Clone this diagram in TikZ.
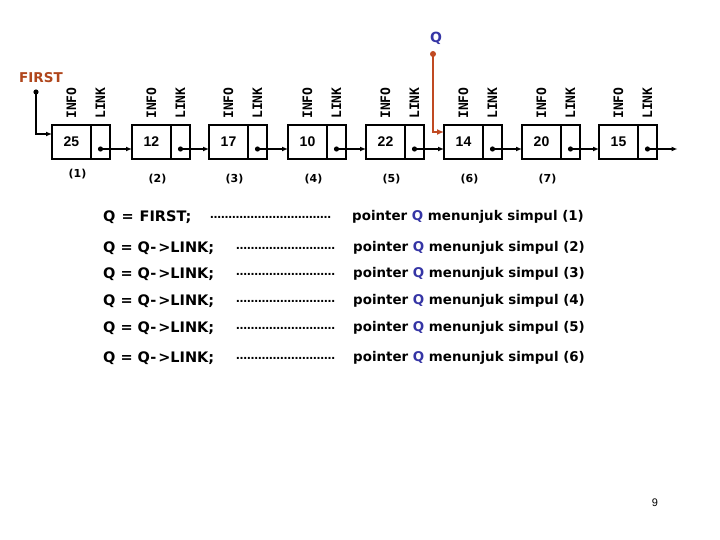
\documentclass[tikz,border=0pt]{standalone}
\usepackage{fontspec}
\setmainfont{DejaVu Sans}
\newfontfamily\monob{DejaVu Sans Mono}
\newfontfamily\numf{Liberation Sans}
\usetikzlibrary{calc,arrows.meta}
\definecolor{firstbrown}{HTML}{B0461C}
\definecolor{qblue}{HTML}{3535A5}
\definecolor{qline}{HTML}{C04A22}
\begin{document}
\begin{tikzpicture}[x=1pt,y=-1pt,
 infobox/.style={draw,line width=1.5pt,outer sep=0pt,minimum width=39pt,minimum height=34pt,inner sep=0pt,font=\numf\bfseries\fontsize{14}{14}\selectfont},
 linkbox/.style={draw,line width=1.5pt,outer sep=0pt,minimum width=19pt,minimum height=34pt,inner sep=0pt},
 fieldlbl/.style={rotate=90,anchor=west,inner sep=0pt,font=\monob\bfseries\fontsize{13}{13}\selectfont},
 idxlbl/.style={inner sep=0pt,font=\bfseries\fontsize{11}{11}\selectfont},
 ptr/.style={line width=1.3pt,-{Latex[length=6pt,width=5pt]}},
 codetxt/.style={anchor=west,inner sep=0pt,font=\bfseries\fontsize{14.5}{15}\selectfont},
 pointtxt/.style={anchor=west,inner sep=0pt,font=\bfseries\fontsize{13.4}{14}\selectfont},
 dotstxt/.style={anchor=west,inner sep=0pt,font=\bfseries\fontsize{11}{11}\selectfont},
]
\useasboundingbox (0,0) rectangle (720,540);
\foreach \k/\x/\v in {1/52/25,2/132/12,3/209/17,4/288/10,5/366/22,6/444/14,7/522/20,8/599/15}{
  \node[infobox,anchor=north west] (i\k) at (\x,125) {\v};
  \node[linkbox,anchor=west] (l\k) at (i\k.east) {};
  \node[fieldlbl] (inf\k) at ($(i\k.north)+(0,-6)$) {INFO};
  \node[fieldlbl] (lnk\k) at ($(l\k.north)+(0,-6)$) {LINK};
  \coordinate (d\k) at ($(l\k.center)+(0,7)$);
  \fill (d\k) circle (2.6pt);
}
\node[idxlbl] (n1) at ($(i1.south)+(6,15)$) {(1)};
\foreach \k in {2,...,7}{
  \node[idxlbl] (n\k) at ($(i\k.south)+(6,20)$) {(\k)};
}
\foreach \a/\b in {1/2,2/3,3/4,4/5,5/6,6/7,7/8}{
  \draw[ptr] (d\a) -- (d\a -| i\b.west);
}
\coordinate (tail) at ($(d8)+(30,0)$);
\draw[ptr] (d8) -- (tail);
% FIRST
\node[inner sep=0pt,text=firstbrown,font=\bfseries\fontsize{13.5}{14}\selectfont] (first) at (41,78) {FIRST};
\coordinate (fd) at (36,92);
\fill (fd) circle (2.6pt);
\draw[ptr] (fd) |- ($(i1.north west)+(0,9)$);
% Q
\node[inner sep=0pt,text=qblue,font=\bfseries\fontsize{14}{14}\selectfont] (qlbl) at (436,38) {Q};
\coordinate (qd) at (433,54);
\fill[qline] (qd) circle (3pt);
\draw[qline,line width=2.5pt,-{Latex[length=7pt,width=6pt]}] (qd) |- ($(i6.north west)+(0,7)$);
% code lines
\node[codetxt] (c1) at (103,217) {Q\hspace{6pt}=\hspace{6pt}FIRST;};
\node[dotstxt] (t1) at (210,217) {……………………………};
\node[pointtxt] (p1) at (352,217) {pointer \textcolor{qblue}{Q} menunjuk simpul (1)};
\foreach \r/\y in {2/248,3/274,4/301,5/328,6/358}{
  \node[codetxt] (c\r) at (103,\y) {Q\hspace{5pt}=\hspace{5pt}Q-\hspace{2pt}>LINK;};
  \node[dotstxt] (t\r) at (236,\y) {………………………};
  \node[pointtxt] (p\r) at (353,\y) {pointer \textcolor{qblue}{Q} menunjuk simpul (\r)};
}
\node[inner sep=0pt,font=\numf\fontsize{11}{11}\selectfont] (pg) at (655,503) {9};
\end{tikzpicture}
\end{document}
